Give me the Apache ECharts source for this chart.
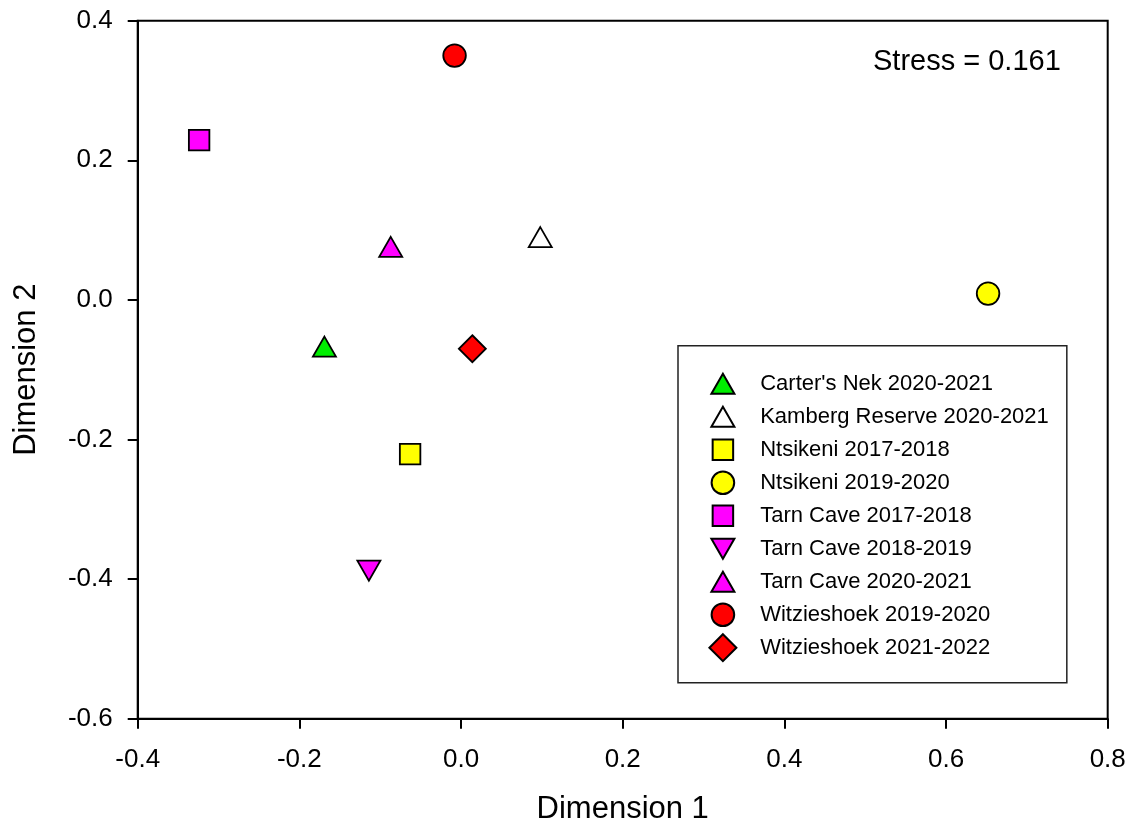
<!DOCTYPE html>
<html>
<head>
<meta charset="utf-8">
<title>NMDS ordination</title>
<script src="https://cdn.jsdelivr.net/npm/echarts@6/dist/echarts.min.js"></script>
<style>
  html, body { margin: 0; padding: 0; background: #fff; }
  #chart { width: 1133px; height: 830px; }
</style>
</head>
<body>
<div id="chart"></div>
<script>
// Site / season names, in legend order
const siteNames = [
  "Carter's Nek 2020-2021",
  "Kamberg Reserve 2020-2021",
  "Ntsikeni 2017-2018",
  "Ntsikeni 2019-2020",
  "Tarn Cave 2017-2018",
  "Tarn Cave 2018-2019",
  "Tarn Cave 2020-2021",
  "Witzieshoek 2019-2020",
  "Witzieshoek 2021-2022"
];

// NMDS coordinates: Dimension 1
const dim1 = [-0.169, 0.098, -0.063, 0.652, -0.324, -0.114, -0.087, -0.008, 0.014];
// NMDS coordinates: Dimension 2
const dim2 = [-0.067, 0.090, -0.221, 0.009, 0.229, -0.388, 0.076, 0.350, -0.070];

// Marker fill colours and shapes for each site / season
const fillColors = ['#00ee00', '#ffffff', '#ffff00', '#ffff00', '#ff00ff', '#ff00ff', '#ff00ff', '#ff0000', '#ff0000'];
const shapeKeys = ['triUp', 'triUp', 'square', 'circle', 'square', 'triDown', 'triUp', 'circle', 'diamond'];

const stressValue = 0.161;

// Axis ranges
const xRange = [-0.4, 0.8];
const yRange = [-0.6, 0.4];
const tickStep = 0.2;

// Symbol outlines drawn inside a shared 27x27 box so the markers keep
// their relative sizes both on the plot and in the legend.
const BOX = 'M0 0 M27 27 ';
const shapes = {
  triUp: 'path://' + BOX + 'M13.5 3.5 L25 23.5 L2 23.5 Z',
  triDown: 'path://' + BOX + 'M2 3.5 L25 3.5 L13.5 23.5 Z',
  square: 'path://' + BOX + 'M3.25 3.25 L23.75 3.25 L23.75 23.75 L3.25 23.75 Z',
  circle: 'path://' + BOX + 'M2.2 13.5 A11.3 11.3 0 0 1 24.8 13.5 A11.3 11.3 0 0 1 2.2 13.5 Z',
  diamond: 'path://M13.5 0 L27 13.5 L13.5 27 L0 13.5 Z'
};

const FONT = '"Liberation Sans", Arial, sans-serif';

const series = siteNames.map((name, i) => ({
  name: name,
  type: 'scatter',
  data: [[dim1[i], dim2[i]]],
  symbol: shapes[shapeKeys[i]],
  symbolSize: 27,
  itemStyle: {
    color: fillColors[i],
    borderColor: '#000',
    borderWidth: 1.8,
    opacity: 1
  },
  emphasis: { disabled: true },
  z: 3
}));

const chart = echarts.init(document.getElementById('chart'), null, { renderer: 'canvas' });

chart.setOption({
  animation: false,
  backgroundColor: '#fff',
  textStyle: { fontFamily: FONT },
  grid: {
    left: 137.7,
    right: 25.3,
    top: 20.7,
    bottom: 111.3,
    show: true,
    borderColor: '#000',
    borderWidth: 2,
    backgroundColor: 'transparent'
  },
  xAxis: {
    type: 'value',
    min: xRange[0],
    max: xRange[1],
    interval: tickStep,
    name: 'Dimension 1',
    nameLocation: 'middle',
    nameGap: 75,
    nameTextStyle: { fontSize: 31, color: '#000', fontFamily: FONT },
    axisLine: { onZero: false, lineStyle: { color: '#000', width: 2 } },
    axisTick: { inside: false, length: 10, lineStyle: { color: '#000', width: 2 } },
    axisLabel: {
      margin: 28,
      fontSize: 26,
      color: '#000',
      fontFamily: FONT,
      formatter: v => v.toFixed(1)
    },
    splitLine: { show: false }
  },
  yAxis: {
    type: 'value',
    min: yRange[0],
    max: yRange[1],
    interval: tickStep,
    name: 'Dimension 2',
    nameLocation: 'middle',
    nameGap: 96,
    nameTextStyle: { fontSize: 31, color: '#000', fontFamily: FONT },
    axisLine: { onZero: false, lineStyle: { color: '#000', width: 2 } },
    axisTick: { inside: false, length: 10, lineStyle: { color: '#000', width: 2 } },
    axisLabel: {
      margin: 25,
      fontSize: 26,
      color: '#000',
      fontFamily: FONT,
      formatter: v => v.toFixed(1)
    },
    splitLine: { show: false }
  },
  legend: {
    orient: 'vertical',
    left: 678,
    top: 345.7,
    padding: [23.5, 18, 20.5, 30.4],
    itemWidth: 64.6,
    itemHeight: 27,
    itemGap: 4,
    symbolKeepAspect: true,
    backgroundColor: '#fff',
    borderColor: '#222',
    borderWidth: 1.5,
    borderRadius: 0,
    selectedMode: false,
    data: siteNames,
    textStyle: { fontSize: 22, color: '#000', fontFamily: FONT, lineHeight: 22 }
  },
  graphic: [{
    type: 'text',
    left: 873,
    top: 47,
    style: {
      text: 'Stress = ' + stressValue.toFixed(3),
      fontSize: 29,
      fontFamily: FONT,
      fill: '#000'
    }
  }],
  series: series
});
</script>
</body>
</html>
